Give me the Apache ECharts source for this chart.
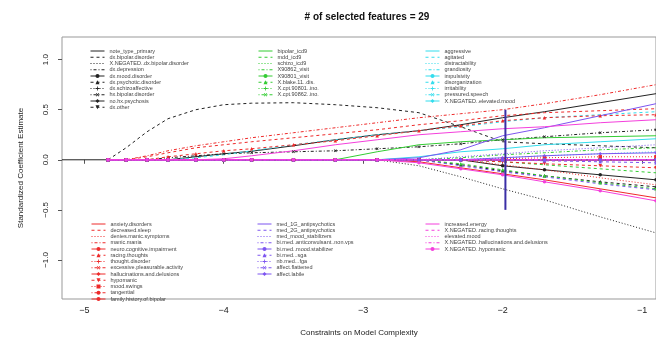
<!DOCTYPE html>
<html>
<head>
<meta charset="utf-8">
<title>coefficient path</title>
<script src="https://cdn.jsdelivr.net/npm/echarts@6/dist/echarts.min.js"></script>
<style>
  html, body { margin: 0; padding: 0; background: #fff; }
  #chart { width: 656px; height: 342px; }
</style>
</head>
<body>
<div id="chart"></div>
<script>
// lambda grid (log scale) where the path was sampled
var lambda = [-5.16, -4.83, -4.7, -4.55, -4.4, -4.2, -4.0, -3.8, -3.5, -3.2, -2.9, -2.6, -2.3, -2.0, -1.7, -1.3, -0.9];
var flat = [null, 0, 0, 0, 0, 0, 0, 0, 0, 0, 0, 0, 0, 0, 0, 0, 0];
var xTicks = [-5, -4, -3, -2, -1];
var yTicks = [-1, -0.5, 0, 0.5, 1];
var chosen = [[-1.98, 0.5], [-1.98, -0.5]];

var blackNames = ['note_type_primary', 'dx.bipolar.disorder', 'X.NEGATED..dx.bipolar.disorder', 'dx.depression',
  'dx.mood.disorder', 'dx.psychotic.disorder', 'dx.schizoaffective', 'hx.bipolar.disorder', 'no.hx.psychosis', 'dx.other'];
var blackPaths = [
  [0, 0, 0, 0, 0, 0.03, 0.06, 0.085, 0.14, 0.2, 0.25, 0.29, 0.35, 0.42, 0.48, 0.57, 0.66],
  [null, 0, 0.12, 0.28, 0.41, 0.5, 0.55, 0.565, 0.57, 0.55, 0.52, 0.47, 0.33, 0.18, 0.16, 0.14, 0.12],
  [null, 0, 0, 0, 0, 0, 0, 0, 0, 0, 0, -0.06, -0.17, -0.29, -0.40, -0.57, -0.73],
  flat,
  [null, 0, 0, 0, 0, 0, 0, 0, 0, 0, 0, 0, 0, -0.06, -0.10, -0.15, -0.20],
  [null, 0, 0, 0, 0, 0, 0, 0, 0, 0, 0, 0, -0.05, -0.11, -0.16, -0.22, -0.27],
  flat,
  [null, 0, 0, 0, 0.02, 0.04, 0.06, 0.07, 0.08, 0.09, 0.11, 0.13, 0.16, 0.2, 0.23, 0.27, 0.30],
  flat,
  flat
];

var greenNames = ['bipolar_icd9', 'mdd_icd9', 'schizo_icd9', 'X90862_visit', 'X90801_visit',
  'X.blake.11..dis.', 'X.cpt.90801..ino.', 'X.cpt.90862..ino.'];
var greenPaths = [
  [null, 0, 0, 0, 0, 0, 0, 0, 0, 0, 0.08, 0.15, 0.18, 0.2, 0.22, 0.23, 0.24],
  [null, 0, 0, 0, 0, 0, 0, 0, 0, 0, 0, 0, 0, -0.02, -0.05, -0.09, -0.13],
  flat,
  [null, 0, 0, 0, 0, 0, 0, 0, 0, 0, 0, 0, 0.02, 0.05, 0.07, 0.10, 0.12],
  flat,
  [null, 0, 0, 0, 0, 0, 0, 0, 0, 0, 0, 0, -0.04, -0.1, -0.16, -0.23, -0.29],
  flat,
  flat
];

var cyanNames = ['aggressive', 'agitated', 'distractability', 'grandiosity', 'impulsivity',
  'disorganization', 'irritability', 'pressured.speech', 'X.NEGATED..elevated.mood'];
var cyanPaths = [
  [null, 0, 0, 0, 0, 0, 0, 0, 0, 0, 0, 0.03, 0.08, 0.11, 0.15, 0.18, 0.21],
  [null, 0, 0, 0, 0, 0.02, 0.05, 0.09, 0.15, 0.2, 0.25, 0.29, 0.33, 0.38, 0.42, 0.45, 0.48],
  [null, 0, 0, 0, 0, 0, 0, 0, 0, 0, 0, 0, 0, 0.02, 0.04, 0.06, 0.08],
  flat, flat, flat, flat, flat, flat
];

var redNames = ['anxiety.disorders', 'decreased.sleep', 'denies.manic.symptoms', 'manic.mania',
  'neuro.cognitive.impairment', 'racing.thoughts', 'thought.disorder', 'excessive.pleasurable.activity',
  'hallucinations.and.delusions', 'hypomanic', 'mood.swings', 'tangential', 'family.history.of.bipolar'];
var redPaths = [
  [null, 0, 0, 0, 0, 0, 0, 0, 0, 0, 0, -0.02, -0.08, -0.14, -0.20, -0.29, -0.38],
  [null, 0, 0, 0.03, 0.07, 0.12, 0.15, 0.18, 0.22, 0.26, 0.3, 0.35, 0.39, 0.44, 0.47, 0.49, 0.51],
  [null, 0, 0, 0, 0, 0, 0, 0, 0, 0, 0, 0, 0, -0.05, -0.1, -0.18, -0.25],
  [null, 0, 0, 0.04, 0.09, 0.14, 0.18, 0.22, 0.27, 0.32, 0.37, 0.42, 0.46, 0.5, 0.56, 0.65, 0.75],
  flat,
  [null, 0, 0, 0, 0.03, 0.06, 0.09, 0.11, 0.15, 0.19, 0.24, 0.29, 0.34, 0.39, 0.42, 0.44, 0.45],
  flat, flat, flat,
  [null, 0, 0, 0, 0, 0, 0, 0, 0, 0, 0, 0, 0, -0.02, -0.04, -0.06, -0.08],
  [null, 0, 0, 0, 0, 0, 0, 0, 0, 0, 0, 0, 0, 0.01, 0.02, 0.03, 0.03],
  flat, flat
];

var purpleNames = ['med_1G_antipsychotics', 'med_2G_antipsychotics', 'med_mood_stabilizers',
  'bi.med..anticonvulsant..non.vps', 'bi.med..mood.stabilizer', 'bi.med...sga', 'nb.med...fga',
  'affect.flattened', 'affect.labile'];
var purplePaths = [
  [null, 0, 0, 0, 0, 0, 0, 0, 0, 0, 0, 0.02, 0.1, 0.24, 0.32, 0.44, 0.56],
  [null, 0, 0, 0, 0, 0, 0, 0, 0, 0, 0, 0, -0.06, -0.12, -0.17, -0.24, -0.30],
  [null, 0, 0, 0, 0, 0, 0, 0, 0, 0, 0, 0, 0.03, 0.06, 0.09, 0.12, 0.15],
  flat, flat,
  [null, 0, 0, 0, 0, 0, 0, 0, 0, 0, 0, 0, 0, 0, -0.01, -0.02, -0.03],
  flat, flat,
  [null, 0, 0, 0, 0, 0, 0, 0, 0, 0, 0, 0, 0, 0.02, 0.04, 0.06, 0.07]
];

var magentaNames = ['increased.energy', 'X.NEGATED..racing.thoughts', 'elevated.mood',
  'X.NEGATED..hallucinations.and.delusions', 'X.NEGATED..hypomanic'];
var magentaPaths = [
  [null, 0, 0, 0, 0, 0, 0.01, 0.04, 0.09, 0.15, 0.2, 0.25, 0.28, 0.31, 0.33, 0.37, 0.40],
  flat, flat, flat,
  [null, 0, 0, 0, 0, 0, 0, 0, 0, 0, 0, -0.03, -0.09, -0.15, -0.22, -0.31, -0.41]
];

// R style cycling: lty 1..4, then pch symbols
var dashes = ['solid', [3, 3], [1, 2], [1, 2, 3, 2]];
var plusPath = 'path://M4,0h2v4h4v2h-4v4h-2v-4h-4v-2h4z';
var marks = [null, null, null, null,
  ['circle', 0], ['triangle', 0], [plusPath, 0], [plusPath, 45], ['diamond', 0],
  ['triangle', 180], ['rect', 0], ['circle', 0], ['circle', 0]];

function makeSeries(names, paths, color) {
  return names.map(function (n, i) {
    var m = marks[i];
    return {
      name: n,
      type: 'line',
      color: color,
      data: lambda.map(function (x, k) { return [x, paths[i][k]]; }),
      showSymbol: !!m,
      symbol: m ? m[0] : 'circle',
      symbolRotate: m ? m[1] : 0,
      symbolSize: 3.5,
      lineStyle: { width: 1, type: dashes[i % 4], color: color },
      itemStyle: { color: color },
      emphasis: { disabled: true },
      silent: true
    };
  });
}

var groups = [
  { names: blackNames, paths: blackPaths, color: '#222222', left: 85, top: 43 },
  { names: greenNames, paths: greenPaths, color: '#33cc33', left: 253, top: 43 },
  { names: cyanNames, paths: cyanPaths, color: '#33dded', left: 420, top: 43 },
  { names: redNames, paths: redPaths, color: '#ee2a2a', left: 86, top: 216 },
  { names: purpleNames, paths: purplePaths, color: '#7d55f0', left: 252, top: 216 },
  { names: magentaNames, paths: magentaPaths, color: '#f43fdc', left: 420, top: 216 }
];

var series = [];
var legends = [];
groups.forEach(function (g) {
  series = series.concat(makeSeries(g.names, g.paths, g.color));
  legends.push({
    // rows without a marker hide the legend symbol, keeping just the line
    data: g.names.map(function (n, i) {
      return marks[i] ? n : { name: n, itemStyle: { opacity: 0 } };
    }),
    orient: 'vertical',
    left: g.left,
    top: g.top,
    itemWidth: 14,
    itemHeight: 5,
    itemGap: 0.25,
    selectedMode: false,
    lineStyle: { width: 1 },
    textStyle: { fontSize: 5.5, lineHeight: 6, color: '#444', fontFamily: 'Liberation Sans' }
  });
});

series.push({
  name: 'chosen',
  type: 'line',
  data: chosen,
  symbol: 'none',
  lineStyle: { width: 2, color: '#3b2ea6' },
  silent: true
});

function minus(v) { return v < 0 ? '\u2212' + Math.abs(v) : String(v); }

var option = {
  animation: false,
  backgroundColor: '#ffffff',
  textStyle: { fontFamily: 'Liberation Sans' },
  title: {
    text: '# of selected features = 29',
    left: 362,
    top: 7,
    textAlign: 'center',
    textStyle: { fontSize: 10, fontWeight: 'bold', color: '#111', fontFamily: 'Liberation Sans' }
  },
  legend: legends,
  grid: { left: 62, right: 0, top: 37, bottom: 39, show: true, borderColor: '#999', borderWidth: 1 },
  xAxis: {
    type: 'value',
    min: -5.16,
    max: -0.9,
    name: 'Constraints on Model Complexity',
    nameLocation: 'middle',
    nameGap: 30,
    nameTextStyle: { fontSize: 8, color: '#222' },
    axisLine: { show: false },
    axisTick: { show: true, length: 4, customValues: xTicks, lineStyle: { color: '#555' } },
    axisLabel: { customValues: xTicks, formatter: minus, fontSize: 9, color: '#222', margin: 7 },
    splitLine: { show: false }
  },
  yAxis: {
    type: 'value',
    min: -1.39,
    max: 1.226,
    name: 'Standardized Coefficient Estimate',
    nameLocation: 'middle',
    nameGap: 37,
    nameTextStyle: { fontSize: 8, color: '#222' },
    axisLine: { show: false },
    axisTick: { show: true, length: 4, customValues: yTicks, lineStyle: { color: '#555' } },
    axisLabel: {
      customValues: yTicks,
      rotate: 90,
      fontSize: 8,
      color: '#222',
      margin: 12,
      formatter: function (v) { return (v < 0 ? '\u2212' : '') + Math.abs(v).toFixed(1); }
    },
    splitLine: { show: false }
  },
  series: series
};

var myChart = echarts.init(document.getElementById('chart'));
myChart.setOption(option);
</script>
</body>
</html>
